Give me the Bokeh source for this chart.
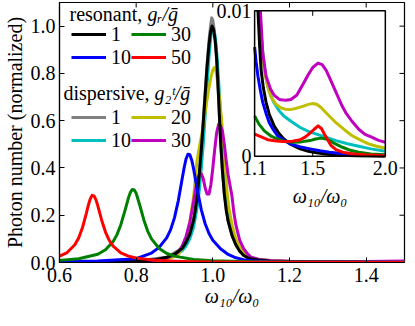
import math
from bokeh.plotting import figure
from bokeh.models import Range1d, FixedTicker, Legend, LegendItem, Label
from bokeh.embed import file_html
from bokeh.resources import INLINE
from bokeh.core.properties import value

FONT = "Liberation Serif"
FS = "20px"

# ---------------- axes ----------------
x_lim = [0.6, 1.5]
y_lim = [0.0, 1.1]
x_ticks = [0.6, 0.8, 1.0, 1.2, 1.4]
x_tick_labels = ["0.6", "0.8", "1.0", "1.2", "1.4"]
y_ticks = [0.0, 0.2, 0.4, 0.6, 0.8, 1.0]
y_tick_labels = ["0.0", "0.2", "0.4", "0.6", "0.8", "1.0"]
x_label = "\u03c9\u2081\u2080/\u03c9\u2080"
y_label = "Photon number (normalized)"

# ---------------- resonant (g_r / g) ----------------
res_labels = ["1", "10", "30", "50"]
res_colors = ["#000000", "#0000ff", "#008000", "#ff0000"]

black_x = [0.60, 0.70, 0.80, 0.85, 0.88, 0.90, 0.92, 0.93, 0.94, 0.95, 0.955, 0.96, 0.965, 0.97, 0.975,
           0.98, 0.985, 0.99, 0.994, 0.998, 1.002, 1.006, 1.01, 1.015, 1.02, 1.025, 1.03, 1.035, 1.04,
           1.05, 1.06, 1.07, 1.08, 1.09, 1.10, 1.12, 1.15, 1.20, 1.25, 1.30, 1.40, 1.50]
black_y = [0.002, 0.003, 0.006, 0.012, 0.022, 0.035, 0.06, 0.085, 0.12, 0.18, 0.23, 0.29, 0.38, 0.48, 0.59,
           0.71, 0.83, 0.92, 0.975, 1.0, 0.985, 0.94, 0.86, 0.70, 0.52, 0.39, 0.29, 0.22, 0.175,
           0.115, 0.075, 0.048, 0.031, 0.021, 0.015, 0.0105, 0.0057, 0.003, 0.0019, 0.0012, 0.0005, 0.0002]

blue_x = [0.60, 0.70, 0.80, 0.84, 0.86, 0.88, 0.89, 0.90, 0.91, 0.92, 0.925, 0.93, 0.935, 0.94, 0.945,
          0.95, 0.96, 0.97, 0.98, 0.99, 1.00, 1.02, 1.04, 1.06, 1.08, 1.10, 1.15, 1.20, 1.30, 1.40, 1.50]
blue_y = [0.003, 0.006, 0.016, 0.04, 0.064, 0.105, 0.139, 0.190, 0.262, 0.354, 0.40, 0.438, 0.458, 0.456, 0.433,
          0.395, 0.303, 0.223, 0.164, 0.123, 0.094, 0.058, 0.034, 0.020, 0.012, 0.0075, 0.0038, 0.0023, 0.0011,
          0.0006, 0.0004]

green_x = [0.60, 0.65, 0.70, 0.72, 0.74, 0.75, 0.76, 0.77, 0.78, 0.785, 0.79, 0.795, 0.80, 0.81, 0.82,
           0.83, 0.84, 0.86, 0.88, 0.90, 0.95, 1.00, 1.10, 1.20, 1.50]
green_y = [0.009, 0.016, 0.035, 0.054, 0.089, 0.118, 0.160, 0.215, 0.274, 0.297, 0.309, 0.307, 0.293, 0.239, 0.180,
           0.133, 0.100, 0.059, 0.038, 0.027, 0.013, 0.0076, 0.0035, 0.002, 0.0006]

red_x = [0.60, 0.62, 0.64, 0.65, 0.66, 0.67, 0.675, 0.68, 0.685, 0.69, 0.695, 0.70, 0.71, 0.72, 0.73,
         0.74, 0.76, 0.78, 0.80, 0.85, 0.90, 0.95, 1.00, 1.10, 1.20, 1.50]
red_y = [0.027, 0.042, 0.075, 0.104, 0.148, 0.208, 0.241, 0.268, 0.284, 0.282, 0.266, 0.240, 0.179, 0.129, 0.093,
         0.069, 0.041, 0.027, 0.019, 0.009, 0.0055, 0.0037, 0.0026, 0.0015, 0.001, 0.0004]

# ---------------- dispersive (g2^t / g) ----------------
dis_labels = ["1", "10", "20", "30"]
dis_colors = ["#808080", "#00bfbf", "#bfbf00", "#bf00bf"]

gray_x = [0.60, 0.80, 0.88, 0.92, 0.94, 0.95, 0.96, 0.97, 0.98, 0.985, 0.99, 0.994, 0.997, 1.0, 1.004,
          1.008, 1.012, 1.016, 1.02, 1.025, 1.03, 1.04, 1.05, 1.06, 1.08, 1.10, 1.15, 1.20, 1.30, 1.50]
gray_y = [0.002, 0.006, 0.022, 0.06, 0.12, 0.18, 0.29, 0.48, 0.72, 0.84, 0.94, 1.0, 1.035, 1.025, 0.98,
          0.91, 0.80, 0.66, 0.52, 0.39, 0.29, 0.175, 0.115, 0.075, 0.031, 0.015, 0.0057, 0.003, 0.0012, 0.0002]

cyan_x = [0.60, 0.80, 0.85, 0.88, 0.90, 0.92, 0.93, 0.94, 0.95, 0.96, 0.965, 0.97, 0.975, 0.98, 0.985,
          0.99, 0.995, 1.0, 1.004, 1.008, 1.012, 1.017, 1.022, 1.027, 1.032, 1.04, 1.05, 1.06, 1.07, 1.08,
          1.09, 1.10, 1.12, 1.15, 1.20, 1.25, 1.30, 1.40, 1.50]
cyan_y = [0.002, 0.005, 0.01, 0.018, 0.028, 0.05, 0.07, 0.1, 0.15, 0.24, 0.31, 0.4, 0.5, 0.62, 0.75,
          0.87, 0.96, 0.99, 0.975, 0.93, 0.85, 0.72, 0.57, 0.44, 0.34, 0.23, 0.14, 0.09, 0.058, 0.038,
          0.026, 0.019, 0.012, 0.0075, 0.0045, 0.0034, 0.0028, 0.0021, 0.0016]

yellow_x = [0.60, 0.80, 0.85, 0.88, 0.90, 0.91, 0.92, 0.93, 0.94, 0.95, 0.958, 0.965, 0.971, 0.977, 0.983,
            0.99, 0.996, 1.0, 1.004, 1.008, 1.012, 1.017, 1.022, 1.027, 1.032, 1.037, 1.042, 1.05, 1.06, 1.07,
            1.08, 1.09, 1.10, 1.12, 1.15, 1.20, 1.25, 1.30, 1.40, 1.50]
yellow_y = [0.001, 0.004, 0.008, 0.015, 0.025, 0.035, 0.06, 0.1, 0.17, 0.28, 0.42, 0.49, 0.54, 0.6, 0.67,
            0.74, 0.79, 0.815, 0.825, 0.81, 0.77, 0.70, 0.62, 0.52, 0.41, 0.30, 0.23, 0.16, 0.10, 0.065,
            0.042, 0.028, 0.02, 0.013, 0.0085, 0.0048, 0.0037, 0.0033, 0.0033, 0.0036]

magenta_x = [0.60, 0.70, 0.80, 0.85, 0.88, 0.90, 0.91, 0.92, 0.93, 0.94, 0.95, 0.955, 0.96, 0.965, 0.97,
             0.975, 0.98, 0.985, 0.99, 0.995, 1.0, 1.005, 1.01, 1.015, 1.02, 1.025, 1.03, 1.035, 1.04, 1.045,
             1.05, 1.055, 1.06, 1.07, 1.08, 1.09, 1.10, 1.12, 1.15, 1.20, 1.25, 1.30, 1.40, 1.50]
magenta_y = [0.001, 0.002, 0.005, 0.01, 0.02, 0.032, 0.045, 0.07, 0.11, 0.17, 0.26, 0.31, 0.35, 0.372, 0.375,
             0.355, 0.315, 0.29, 0.29, 0.33, 0.40, 0.48, 0.55, 0.585, 0.58, 0.555, 0.50, 0.43, 0.37, 0.325,
             0.28, 0.21, 0.16, 0.095, 0.06, 0.038, 0.022, 0.013, 0.008, 0.005, 0.0042, 0.0039, 0.0045, 0.0064]

# ---------------- inset ----------------
inset_x_lim = [1.1, 2.0]
inset_y_lim = [0.0, 0.01]
inset_target_x = [1.109, 1.45]    # where the inset sits, in main-axis data units
inset_target_y = [0.45, 1.065]
inset_x_ticks = [1.1, 1.5, 2.0]
inset_x_tick_labels = ["1.1", "1.5", "2.0"]
inset_y_ticks = [0.0, 0.01]
inset_y_tick_labels = ["0", "0.01"]

ins_black_x = [1.123, 1.135, 1.145, 1.16, 1.179, 1.2, 1.234, 1.265, 1.301, 1.35, 1.414, 1.47, 1.526, 1.6,
               1.7, 1.8, 1.9, 2.0]
ins_black_y = [0.01, 0.0075, 0.0059, 0.0047, 0.0037, 0.0029, 0.00208, 0.0016, 0.00118, 0.0008, 0.0005,
               0.00033, 0.00023, 0.00013, 0.00006, 0.00003, 0.00001, 0.0]
ins_blue_x = [1.1, 1.11, 1.123, 1.14, 1.156, 1.18, 1.201, 1.23, 1.257, 1.3, 1.346, 1.41, 1.481, 1.55, 1.615,
              1.7, 1.817, 1.9, 2.0]
ins_blue_y = [0.0075, 0.0065, 0.0055, 0.0045, 0.0037, 0.0029, 0.0023, 0.0018, 0.0014, 0.0011, 0.00084,
              0.00065, 0.0005, 0.00037, 0.00027, 0.00018, 0.00011, 0.00008, 0.00005]
ins_green_x = [1.1, 1.13, 1.167, 1.21, 1.257, 1.31, 1.369, 1.42, 1.481, 1.52, 1.559, 1.59, 1.615, 1.66, 1.705,
               1.76, 1.817, 1.9, 2.0]
ins_green_y = [0.00276, 0.0022, 0.00174, 0.0014, 0.00118, 0.001, 0.00095, 0.00098, 0.00107, 0.00118,
               0.00124, 0.00118, 0.00107, 0.00082, 0.00061, 0.0004, 0.00027, 0.00015, 0.00009]
ins_red_x = [1.1, 1.15, 1.19, 1.25, 1.301, 1.36, 1.414, 1.45, 1.481, 1.51, 1.537, 1.56, 1.581, 1.605, 1.626,
             1.66, 1.705, 1.78, 1.862, 2.0]
ins_red_y = [0.00151, 0.0013, 0.00113, 0.00104, 0.001, 0.00103, 0.00113, 0.00132, 0.00158, 0.00185, 0.00208,
             0.0019, 0.00151, 0.0011, 0.00073, 0.00045, 0.00027, 0.00015, 0.00009, 0.00003]
ins_cyan_x = [1.134, 1.15, 1.17, 1.19, 1.21, 1.234, 1.27, 1.301, 1.35, 1.414, 1.47, 1.526, 1.59, 1.66, 1.74,
              1.817, 1.9, 2.0]
ins_cyan_y = [0.01, 0.0077, 0.0059, 0.0048, 0.0042, 0.00367, 0.0031, 0.00276, 0.0024, 0.00197, 0.0017,
              0.00151, 0.0013, 0.00107, 0.00085, 0.00068, 0.0005, 0.00034]
ins_yellow_x = [1.135, 1.15, 1.167, 1.19, 1.212, 1.245, 1.279, 1.31, 1.346, 1.39, 1.436, 1.47, 1.503, 1.53,
                1.559, 1.6, 1.66, 1.72, 1.772, 1.83, 1.884, 1.94, 2.0]
ins_yellow_y = [0.01, 0.0078, 0.0059, 0.0048, 0.0041, 0.0036, 0.00333, 0.00323, 0.0032, 0.0033, 0.00344,
                0.00356, 0.00362, 0.00355, 0.00333, 0.0029, 0.0023, 0.0018, 0.0014, 0.0011, 0.00084, 0.00068,
                0.00054]
ins_magenta_x = [1.14, 1.156, 1.179, 1.21, 1.234, 1.27, 1.313, 1.35, 1.391, 1.43, 1.469, 1.5, 1.537, 1.565,
                 1.593, 1.625, 1.66, 1.7, 1.727, 1.77, 1.817, 1.86, 1.906, 1.95, 2.0]
ins_magenta_y = [0.01, 0.0071, 0.0055, 0.0046, 0.0042, 0.0039, 0.00385, 0.0039, 0.0042, 0.0049, 0.0056,
                 0.0061, 0.0064, 0.0063, 0.0059, 0.0052, 0.0044, 0.0035, 0.003, 0.0024, 0.00185, 0.0015,
                 0.0013, 0.0011, 0.00095]

# ---------------- figure ----------------
W, H = 407, 318
B_LEFT, B_RIGHT, B_TOP, B_BOTTOM = 50, 3, 2, 56
FRAME_H = H - B_TOP - B_BOTTOM
LW = 3

p = figure(width=W, height=H, x_range=Range1d(*x_lim), y_range=Range1d(*y_lim),
           output_backend="svg", toolbar_location=None,
           min_border_left=B_LEFT, min_border_right=B_RIGHT,
           min_border_top=B_TOP, min_border_bottom=B_BOTTOM)
p.xgrid.visible = False
p.ygrid.visible = False
p.outline_line_color = "black"
p.outline_line_width = 1.2
p.background_fill_color = "white"
p.border_fill_color = "white"

for ax, ticks, labels in ((p.xaxis[0], x_ticks, x_tick_labels), (p.yaxis[0], y_ticks, y_tick_labels)):
    ax.ticker = FixedTicker(ticks=ticks)
    ax.major_label_overrides = {t: l for t, l in zip(ticks, labels)}
    ax.major_tick_in = 5
    ax.major_tick_out = 0
    ax.minor_tick_in = 0
    ax.minor_tick_out = 0
    ax.axis_line_color = "black"
    ax.axis_line_width = 1.2
    ax.major_tick_line_color = "black"
    ax.major_label_text_font = FONT
    ax.major_label_text_font_size = FS
    ax.major_label_text_color = "black"
    ax.major_label_text_line_height = 0.9
    ax.axis_label_text_font = FONT
    ax.axis_label_text_font_size = FS
    ax.axis_label_text_color = "black"
    ax.axis_label_text_line_height = 0.9
p.xaxis.major_label_standoff = 5
p.yaxis.major_label_standoff = 4
p.xaxis.axis_label = x_label
p.yaxis.axis_label = y_label
p.xaxis.axis_label_text_font_style = "italic"
p.yaxis.axis_label_text_font_style = "normal"
p.xaxis.axis_label_standoff = 0
p.yaxis.axis_label_standoff = 2

# inward ticks on the top and right edges (clipped to the frame)
p.scatter(x=x_ticks, y=[y_lim[1]] * len(x_ticks), marker="dash", size=10, angle=math.pi / 2,
          line_color="black", line_width=1)
p.scatter(x=[x_lim[1]] * len(y_ticks), y=y_ticks, marker="dash", size=10,
          line_color="black", line_width=1)

# main curves: dispersive first, resonant on top
dis_data = [(gray_x, gray_y), (cyan_x, cyan_y), (yellow_x, yellow_y), (magenta_x, magenta_y)]
res_data = [(black_x, black_y), (blue_x, blue_y), (green_x, green_y), (red_x, red_y)]
dis_r = [p.line(x, y, line_color=c, line_width=LW, line_join="round")
         for (x, y), c in zip(dis_data, dis_colors)]
res_r = [p.line(x, y, line_color=c, line_width=LW, line_join="round")
         for (x, y), c in zip(res_data, res_colors)]

# ---------------- inset ----------------
ins = p.subplot(x_source=Range1d(*inset_x_lim), y_source=Range1d(*inset_y_lim),
                x_target=Range1d(*inset_target_x), y_target=Range1d(*inset_target_y))
ins.quad(left=inset_x_lim[0], right=inset_x_lim[1], bottom=inset_y_lim[0], top=inset_y_lim[1],
         fill_color="white", line_color=None)
ins_dis = [(ins_cyan_x, ins_cyan_y), (ins_yellow_x, ins_yellow_y), (ins_magenta_x, ins_magenta_y)]
ins_res = [(ins_black_x, ins_black_y), (ins_blue_x, ins_blue_y), (ins_green_x, ins_green_y),
           (ins_red_x, ins_red_y)]
for (x, y), c in zip(ins_dis, dis_colors[1:]):
    ins.line(x, y, line_color=c, line_width=LW, line_join="round")
for (x, y), c in zip(ins_res, res_colors):
    ins.line(x, y, line_color=c, line_width=LW, line_join="round")
ins.quad(left=inset_x_lim[0], right=inset_x_lim[1], bottom=inset_y_lim[0], top=inset_y_lim[1],
         fill_color=None, line_color="black", line_width=1.5)
mid = inset_x_ticks[1]
ins.segment(x0=[mid, mid], y0=[inset_y_lim[1], inset_y_lim[0]], x1=[mid, mid],
            y1=[inset_y_lim[1] * 0.965, inset_y_lim[1] * 0.035], line_color="black", line_width=1)
ins.text(x=inset_x_ticks, y=[inset_y_lim[0]] * 3, text=inset_x_tick_labels, text_align="center",
         text_baseline="top", y_offset=5, text_font=value(FONT), text_font_size=FS, text_color="black")
ins.text(x=[inset_x_lim[0]] * 2, y=inset_y_ticks, text=inset_y_tick_labels, text_align="right",
         text_baseline="middle", x_offset=-3, text_font=value(FONT), text_font_size=FS, text_color="black")
ins.text(x=[(inset_x_lim[0] + inset_x_lim[1]) / 2], y=[inset_y_lim[0]], text=[x_label], text_align="center",
         text_baseline="top", y_offset=29, text_font=value(FONT), text_font_size=FS,
         text_font_style="italic", text_color="black")

# ---------------- legends ----------------
ITEM_H = 23
SPACING = -1


def make_legend(renderers, labels, first_row_center):
    top = first_row_center - ITEM_H / 2
    bottom = top + 2 * ITEM_H + SPACING
    leg = Legend(items=[LegendItem(label=l, renderers=[r]) for l, r in zip(labels, renderers)],
                 ncols=2, location=(12, FRAME_H - bottom), orientation="vertical")
    leg.border_line_color = None
    leg.background_fill_alpha = 0
    leg.label_text_font = FONT
    leg.label_text_font_size = FS
    leg.label_text_color = "black"
    leg.glyph_width = 35
    leg.glyph_height = 20
    leg.label_height = 20
    leg.label_standoff = 5
    leg.spacing = SPACING
    leg.padding = 0
    leg.margin = 0
    return leg


p.add_layout(make_legend(res_r, res_labels, 33))
p.add_layout(make_legend(dis_r, dis_labels, 116))

titles = [("resonant,", "normal", 10, 11), ("g\u1d63/\u1e21", "italic", 88, 11),
          ("dispersive,", "normal", 4, 90), ("g\u2082\u1d57/\u1e21", "italic", 95, 90)]
for txt, style, x0, y0 in titles:
    p.add_layout(Label(x=x0, y=FRAME_H - y0, x_units="screen", y_units="screen", text=txt,
                       text_baseline="middle", text_font=FONT, text_font_size=FS,
                       text_font_style=style, text_color="black"))

open("out.html", "w").write(file_html(p, INLINE))
